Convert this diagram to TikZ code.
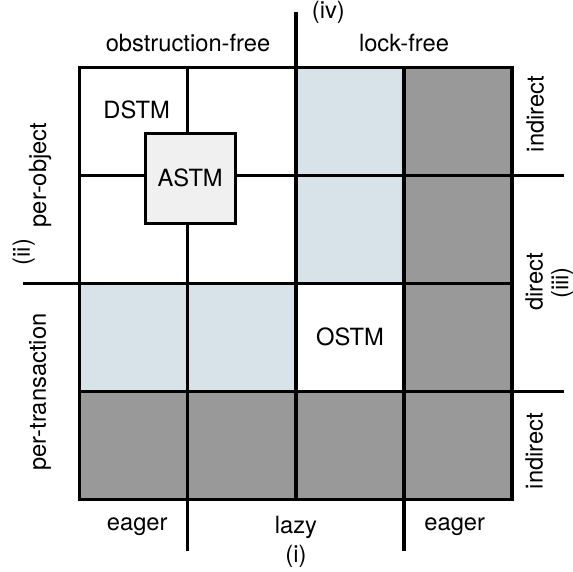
\documentclass[tikz,border=0pt]{standalone}
\usepackage{fontspec}
\setmainfont{TeX Gyre Heros}
\definecolor{paleblue}{RGB}{216,226,233}
\definecolor{darkcell}{RGB}{153,153,153}
\definecolor{boxgrey}{RGB}{240,240,240}
\begin{document}
\begin{tikzpicture}[
  every node/.style={font=\fontsize{12.5}{15}\selectfont},
  gridline/.style={line width=1.6pt},
  stmbox/.style={rectangle, draw, line width=1.6pt, fill=boxgrey,
    minimum size=1.67cm, inner sep=0pt},
  sidelabel/.style={rotate=90},
]
\useasboundingbox (-1.481,-1.333) rectangle (9.130,9.241);

% Shaded cells
\fill[paleblue] (4,4) rectangle (6,8);
\fill[paleblue] (0,2) rectangle (4,4);
\fill[darkcell] (6,2) rectangle (8,8);
\fill[darkcell] (0,0) rectangle (8,2);

% Grid
\foreach \k in {2,4,6} {
  \draw[gridline] (\k,0) -- (\k,8);
  \draw[gridline] (0,\k) -- (8,\k);
}
\draw[gridline] (0,0) rectangle (8,8);

% Axis lines reaching out of the grid
\draw[gridline] (4,8) -- (4,9.02);
\draw[gridline] (2,0) -- (2,-0.96);
\draw[gridline] (6,0) -- (6,-0.96);
\draw[gridline] (0,4) -- (-1.06,4);
\draw[gridline] (8,6) -- (8.96,6);
\draw[gridline] (8,2) -- (8.96,2);

% Systems
\node (dstm) at (1.05,7.2) {DSTM};
\node[stmbox] (astm) at (2.04,5.94) {ASTM};
\node (ostm) at (5,3) {OSTM};

% Top labels
\node (obsfree) at (2,8.44) {obstruction-free};
\node (lockfree) at (6,8.44) {lock-free};
\node (axisiv) at (4.6,9.02) {(iv)};

% Left labels
\node[sidelabel] (perobj) at (-0.74,6) {per-object};
\node[sidelabel] (pertx) at (-0.74,1.98) {per-transaction};
\node[sidelabel] (axisii) at (-1.04,4.57) {(ii)};

% Right labels
\node[sidelabel] (indtop) at (8.43,7.13) {indirect};
\node[sidelabel] (direct) at (8.41,4.02) {direct};
\node[sidelabel] (axisiii) at (8.93,4.0) {(iii)};
\node[sidelabel] (indbot) at (8.41,0.89) {indirect};

% Bottom labels
\node (eagerl) at (1.06,-0.52) {eager};
\node (lazy) at (4,-0.52) {lazy};
\node (eagerr) at (6.94,-0.52) {eager};
\node (axisi) at (4,-1.07) {(i)};

\end{tikzpicture}
\end{document}
